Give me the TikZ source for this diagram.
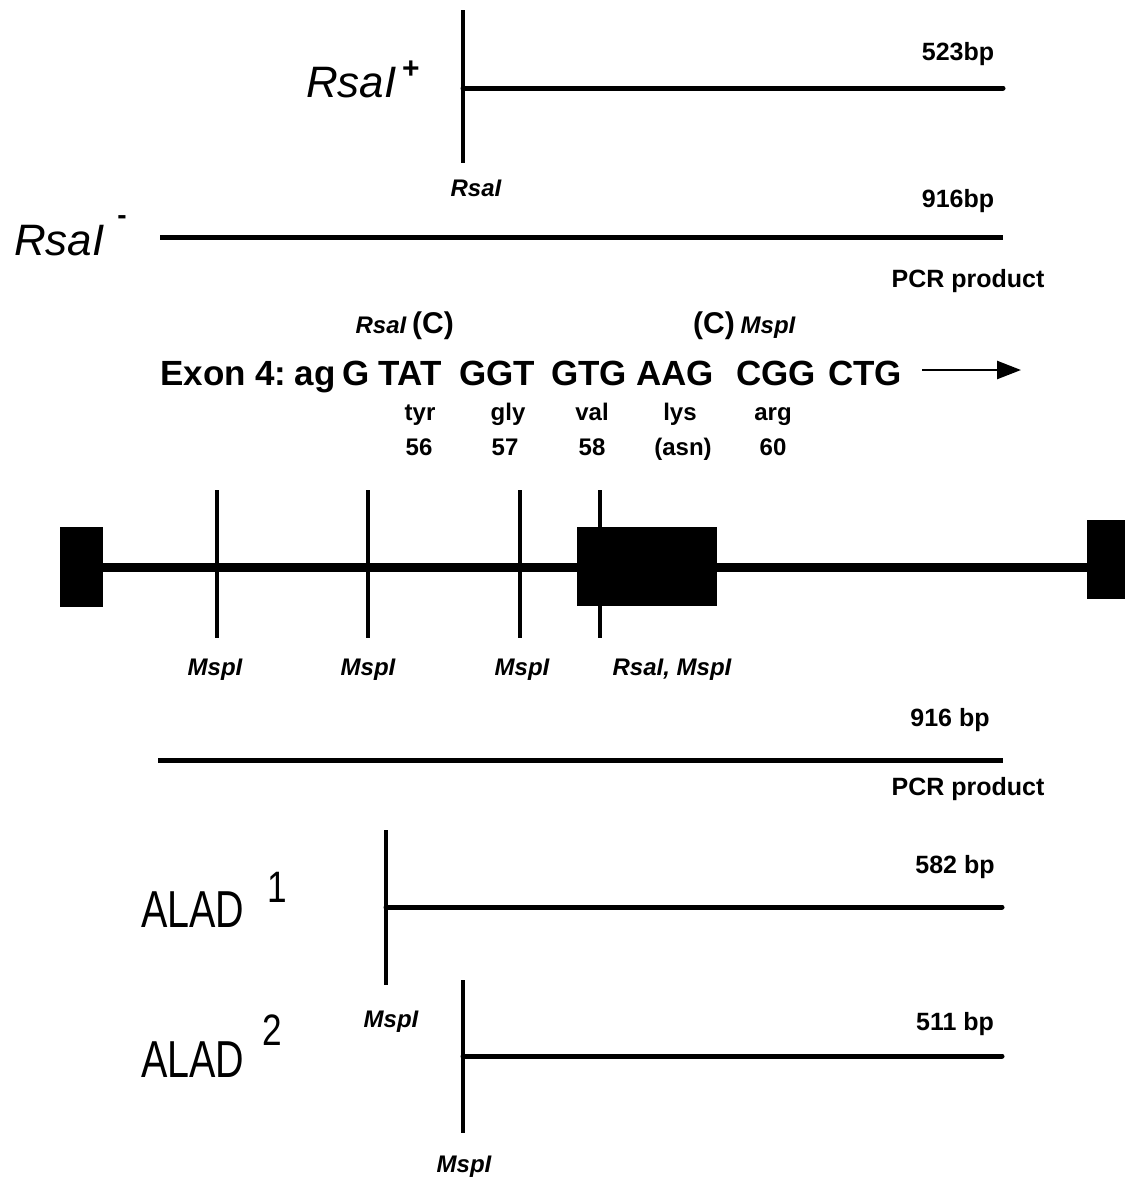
\documentclass[tikz,border=0pt]{standalone}
\usepackage{fontspec}
\setmainfont{Liberation Sans}
\usetikzlibrary{arrows.meta}
\begin{document}
\begin{tikzpicture}[x=1pt,y=-1pt,
  frag/.style={line width=5pt},
  cutline/.style={line width=3.5pt},
  gene/.style={line width=9pt},
  exonbox/.style={fill=black,draw=none},
  lab/.style={font=\fontsize{25}{25}\selectfont\bfseries,inner sep=0pt,anchor=base},
  ilab/.style={font=\fontsize{24}{24}\selectfont\bfseries\itshape,inner sep=0pt,anchor=base},
  aa/.style={font=\fontsize{24}{24}\selectfont\bfseries,inner sep=0pt,anchor=base},
  biglab/.style={font=\fontsize{44}{44}\selectfont\itshape,inner sep=0pt,anchor=base west},
  alad/.style={font=\fontsize{52}{52}\selectfont,inner sep=0pt,anchor=base west,xscale=0.76},
  supnum/.style={font=\fontsize{44}{44}\selectfont,inner sep=0pt,anchor=base,xscale=0.8},
  codon/.style={font=\fontsize{35}{35}\selectfont\bfseries,inner sep=0pt,anchor=base},
  paren/.style={font=\fontsize{30}{30}\selectfont\bfseries,inner sep=0pt,anchor=base}
]
\useasboundingbox (0,0) rectangle (1125,1183);

% ---- RsaI+ fragment
\coordinate (rp1) at (463,10);
\coordinate (rp2) at (463,163);
\coordinate (rpA) at (463,88);
\coordinate (rpB) at (1003,88);
\draw[cutline] (rp1) -- (rp2);
\draw[frag,line cap=round] (rpA) -- (rpB);
\node[biglab] (rplus) at (306,97) {RsaI};
\node[font=\fontsize{30}{30}\selectfont\bfseries,inner sep=0pt] (plus) at (411,70) {+};
\node[lab] (bp523) at (958,60) {523bp};
\node[ilab] (rsacut) at (476,196) {RsaI};

% ---- RsaI- fragment
\coordinate (rmA) at (160,237);
\coordinate (rmB) at (1003,237);
\draw[frag] (rmA) -- (rmB);
\node[biglab] (rminus) at (14,255) {RsaI};
\node[font=\fontsize{28}{28}\selectfont\bfseries,inner sep=0pt] (minus) at (122,220) {-};
\node[lab] (bp916a) at (958,207) {916bp};
\node[lab] (pcra) at (968,287) {PCR product};

% ---- Exon 4 sequence
\node[ilab] (rsaiC) at (381,333) {RsaI};
\node[paren] (cA) at (433,333) {(C)};
\node[paren] (cB) at (714,333) {(C)};
\node[ilab] (mspC) at (768,333) {MspI};

\node[codon,anchor=base west] (ex) at (160,385) {Exon 4:};
\node[codon] (ag) at (315,385) {ag};
\node[codon] (cg) at (356,385) {G};
\node[codon] (c1) at (410,385) {TAT};
\node[codon] (c2) at (497,385) {GGT};
\node[codon] (c3) at (589,385) {GTG};
\node[codon] (c4) at (675,385) {AAG};
\node[codon] (c5) at (776,385) {CGG};
\node[codon] (c6) at (865,385) {CTG};
\coordinate (arA) at (922,370);
\coordinate (arB) at (1021,370);
\draw[line width=2.5pt,-{Triangle[length=24pt,width=18pt]}] (arA) -- (arB);

\node[aa] (a1) at (420,420) {tyr};
\node[aa] (a2) at (508,420) {gly};
\node[aa] (a3) at (592,420) {val};
\node[aa] (a4) at (680,420) {lys};
\node[aa] (a5) at (773,420) {arg};
\node[aa] (n1) at (419,455) {56};
\node[aa] (n2) at (505,455) {57};
\node[aa] (n3) at (592,455) {58};
\node[aa] (n4) at (683,455) {(asn)};
\node[aa] (n5) at (773,455) {60};

% ---- gene map
\coordinate (gA) at (100,567);
\coordinate (gB) at (1090,567);
\draw[gene] (gA) -- (gB);
\foreach \x/\n in {217/m1,368/m2,520/m3,600/m4}{
  \coordinate (\n t) at (\x,490);
  \coordinate (\n b) at (\x,638);
  \draw[line width=3.5pt] (\n t) -- (\n b);
}
\fill[exonbox] (60,527) rectangle (103,607);
\fill[exonbox] (577,527) rectangle (717,606);
\fill[exonbox] (1087,520) rectangle (1125,599);
\node[ilab] (l1) at (215,675) {MspI};
\node[ilab] (l2) at (368,675) {MspI};
\node[ilab] (l3) at (522,675) {MspI};
\node[ilab] (l4) at (672,675) {RsaI, MspI};

% ---- PCR product 2
\coordinate (pA) at (158,760);
\coordinate (pB) at (1003,760);
\draw[frag] (pA) -- (pB);
\node[lab] (bp916b) at (950,726) {916 bp};
\node[lab] (pcrb) at (968,795) {PCR product};

% ---- ALAD1
\coordinate (a1t) at (386,830);
\coordinate (a1b) at (386,985);
\coordinate (a1A) at (386,907);
\coordinate (a1B) at (1002,907);
\draw[cutline] (a1t) -- (a1b);
\draw[frag,line cap=round] (a1A) -- (a1B);
\node[alad] (alad1) at (141,927) {ALAD};
\node[supnum] (sup1) at (277,902) {1};
\node[lab] (bp582) at (955,873) {582 bp};
\node[ilab] (msp1) at (391,1027) {MspI};

% ---- ALAD2
\coordinate (a2t) at (463,980);
\coordinate (a2b) at (463,1133);
\coordinate (a2A) at (463,1056);
\coordinate (a2B) at (1002,1056);
\draw[cutline] (a2t) -- (a2b);
\draw[frag,line cap=round] (a2A) -- (a2B);
\node[alad] (alad2) at (141,1077) {ALAD};
\node[supnum] (sup2) at (272,1045) {2};
\node[lab] (bp511) at (955,1030) {511 bp};
\node[ilab] (msp2) at (464,1172) {MspI};
\end{tikzpicture}
\end{document}
